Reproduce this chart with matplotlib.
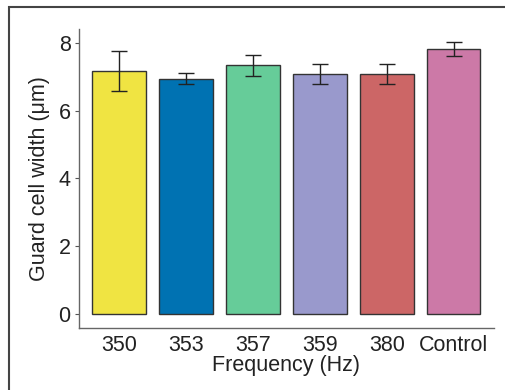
import matplotlib

matplotlib.use("Agg")
import matplotlib.pyplot as plt  # noqa: E402
from matplotlib.patches import Rectangle  # noqa: E402

labels = ["350", "353", "357", "359", "380", "Control"]
width_um = [7.17, 6.94, 7.34, 7.08, 7.08, 7.82]
err_um = [0.59, 0.16, 0.31, 0.30, 0.30, 0.20]
colors = ["#F0E442", "#0072B2", "#66CC99", "#9999CC", "#CC6666", "#CC79A7"]

plt.rcParams["font.family"] = ["Liberation Sans", "DejaVu Sans"]

fig = plt.figure(figsize=(5.06, 3.9), dpi=100)
ax = fig.add_axes([0.156, 0.159, 0.820, 0.767])

xs = list(range(1, len(labels) + 1))
ax.bar(xs, width_um, width=0.8, color=colors, edgecolor="#333333", linewidth=1.0)
ax.errorbar(xs, width_um, yerr=err_um, fmt="none", ecolor="#222222",
            elinewidth=1.0, capsize=6, capthick=1.0)

ax.set_xlim(0.4, 6.6)
ax.set_ylim(-0.41, 8.41)
ax.set_xticks(xs)
ax.set_xticklabels(labels)
ax.set_yticks([0, 2, 4, 6, 8])
ax.tick_params(axis="x", length=0, pad=5, labelsize=15.5, labelcolor="#222222")
ax.tick_params(axis="y", length=3, width=0.8, color="#555555", pad=3,
               labelsize=15.5, labelcolor="#222222")
for s in ["top", "right"]:
    ax.spines[s].set_visible(False)
for s in ["left", "bottom"]:
    ax.spines[s].set_color("#666666")
    ax.spines[s].set_linewidth(1.0)

ax.set_xlabel("Frequency (Hz)", fontsize=15.5, color="#222222", labelpad=-1)
ax.set_ylabel("Guard cell width (μm)", fontsize=15.5, color="#222222", labelpad=6)

# outer frame, cut off at the right and bottom
fig.patches.append(Rectangle((9 / 506, -0.1), 1.2, 1.1 - 7 / 390,
                             transform=fig.transFigure, fill=False,
                             edgecolor="#444444", linewidth=1.5))

fig.savefig("out.png", dpi=100)
plt.close(fig)
